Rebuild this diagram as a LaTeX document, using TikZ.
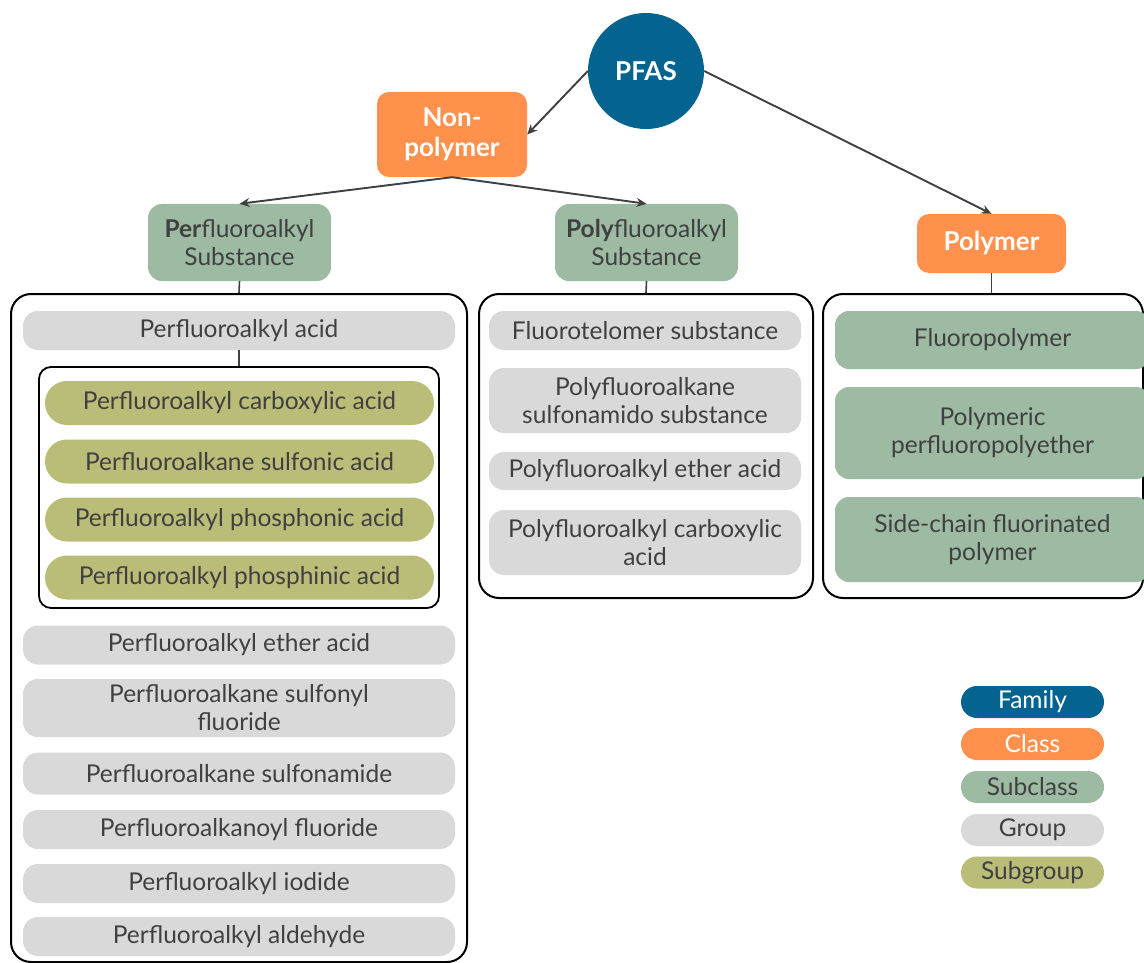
\documentclass[tikz,border=0pt]{standalone}
\usepackage{fontspec}
\setmainfont{Lato}
\usepackage{xcolor}
\usepackage{tikz}
\usetikzlibrary{arrows.meta, positioning}
\definecolor{pfblue}{HTML}{05638F}
\definecolor{pforange}{HTML}{FF914D}
\definecolor{pfgreen}{HTML}{9DBBA2}
\definecolor{pfgray}{HTML}{D9D9D9}
\definecolor{pfolive}{HTML}{B9BD77}
\definecolor{pftext}{HTML}{404040}
\tikzset{
  tagbase/.style={rectangle,inner sep=0pt,align=center,text=pftext,font=\fontsize{24.5}{28}\selectfont},
  famnode/.style={circle,fill=pfblue,text=white,minimum size=116pt,inner sep=0pt,font=\fontsize{26}{30}\selectfont\bfseries},
  clsnode/.style={tagbase,fill=pforange,text=white,rounded corners=12pt,font=\fontsize{26}{30}\selectfont\bfseries},
  subnode/.style={tagbase,fill=pfgreen,rounded corners=14pt},
  grpnode/.style={tagbase,fill=pfgray,rounded corners=15pt},
  sgrpnode/.style={tagbase,fill=pfolive,rounded corners=22pt,minimum width=389pt,minimum height=44pt},
  keynode/.style={tagbase,rounded corners=16pt,minimum width=143pt,minimum height=32pt},
  panel/.style={draw=black,line width=2pt,rounded corners=20pt,inner sep=0pt},
  linkedge/.style={-{Stealth[length=10pt,width=9pt]},line width=1.9pt,pftext},
  stem/.style={line width=1.6pt,pftext},
}

\begin{document}
\begin{tikzpicture}[x=1pt,y=-1pt]
  \useasboundingbox[fill=white] (0,0) rectangle (1144,963);
  \clip (0,0) rectangle (1144,963);
  % ---- family, classes and subclasses ----
  \node[famnode] (pfas) at (646,71) {PFAS};
  \node[clsnode,minimum width=150pt,minimum height=85pt] (nonpoly) at (452,134.5) {Non-\\polymer};
  \node[subnode,minimum width=183pt,minimum height=77pt] (persub) at (239.5,242.5) {\textbf{Per}fluoroalkyl\\Substance};
  \node[subnode,minimum width=183pt,minimum height=77pt] (polysub) at (646.5,242.5) {\textbf{Poly}fluoroalkyl\\Substance};
  \node[clsnode,minimum width=149pt,minimum height=59pt] (polymer) at (991.5,243.5) {Polymer};
  \draw[linkedge] (pfas.west) -- (nonpoly.east);
  \draw[linkedge] (pfas.east) -- (polymer.north);
  \draw[linkedge] (nonpoly.south) -- (persub.north);
  \draw[linkedge] (nonpoly.south) -- (polysub.north);

  % ---- group panels ----
  \node[panel,minimum width=456pt,minimum height=668pt] (perpanel) at (239,628) {};
  \node[panel,minimum width=334pt,minimum height=304pt] (polypanel) at (646,446) {};
  \node[panel,minimum width=320pt,minimum height=304pt] (polmpanel) at (983,446) {};
  \draw[stem] (persub.south) -- (perpanel.north);
  \draw[stem] (polysub.south) -- (polypanel.north);
  \draw[stem] (polymer.south) -- (polymer.south |- polmpanel.north);

  % ---- perfluoroalkyl groups, acid subgroups boxed ----
  \node[grpnode,minimum width=432pt,minimum height=39pt] (pfaa) at (239,330.5) {Perfluoroalkyl acid};
  \node[panel,line width=1.8pt,rounded corners=12pt,minimum width=400pt,minimum height=241pt] (acidpanel) at (239,487.5) {};
  \draw[stem] (pfaa.south) -- (acidpanel.north);
  \node[sgrpnode] (pfca) at (239.5,403) {Perfluoroalkyl carboxylic acid};
  \node[sgrpnode] (pfsa) at (239.5,461.5) {Perfluoroalkane sulfonic acid};
  \node[sgrpnode] (pfpa) at (239.5,519.5) {Perfluoroalkyl phosphonic acid};
  \node[sgrpnode] (pfpia) at (239.5,577.5) {Perfluoroalkyl phosphinic acid};
  \node[grpnode,minimum width=432pt,minimum height=39pt] (pfea) at (239,645) {Perfluoroalkyl ether acid};
  \node[grpnode,minimum width=432pt,minimum height=58pt] (pfsf) at (239,708) {Perfluoroalkane sulfonyl\\fluoride};
  \node[grpnode,minimum width=432pt,minimum height=42pt] (pfsam) at (239,773.5) {Perfluoroalkane sulfonamide};
  \node[grpnode,minimum width=432pt,minimum height=39pt] (pfaf) at (239,829.5) {Perfluoroalkanoyl fluoride};
  \node[grpnode,minimum width=432pt,minimum height=39pt] (pfai) at (239,883.5) {Perfluoroalkyl iodide};
  \node[grpnode,minimum width=432pt,minimum height=39pt] (pfal) at (239,936.5) {Perfluoroalkyl aldehyde};

  % ---- polyfluoroalkyl groups ----
  \node[grpnode,minimum width=312pt,minimum height=39pt] (ftel) at (645,330.5) {Fluorotelomer substance};
  \node[grpnode,minimum width=312pt,minimum height=65pt] (pfsas) at (645,400.5) {Polyfluoroalkane\\sulfonamido substance};
  \node[grpnode,minimum width=312pt,minimum height=38pt] (plea) at (645,471) {Polyfluoroalkyl ether acid};
  \node[grpnode,minimum width=312pt,minimum height=65pt] (plca) at (645,542.5) {Polyfluoroalkyl carboxylic\\acid};

  % ---- polymer subclasses ----
  \node[subnode,minimum width=315pt,minimum height=58pt] (fpol) at (992.5,340) {Fluoropolymer};
  \node[subnode,minimum width=315pt,minimum height=92pt] (pfpe) at (992.5,433) {Polymeric\\perfluoropolyether};
  \node[subnode,minimum width=315pt,minimum height=85pt] (scfp) at (992.5,539.5) {Side-chain fluorinated\\polymer};

  % ---- legend ----
  \node[keynode,fill=pfblue,text=white] (kfam) at (1032.5,702) {Family};
  \node[keynode,fill=pforange,text=white] (kcls) at (1032.5,744) {Class};
  \node[keynode,fill=pfgreen] (ksub) at (1032.5,787) {Subclass};
  \node[keynode,fill=pfgray] (kgrp) at (1032.5,830) {Group};
  \node[keynode,fill=pfolive] (ksgrp) at (1032.5,872.5) {Subgroup};
\end{tikzpicture}
\end{document}
